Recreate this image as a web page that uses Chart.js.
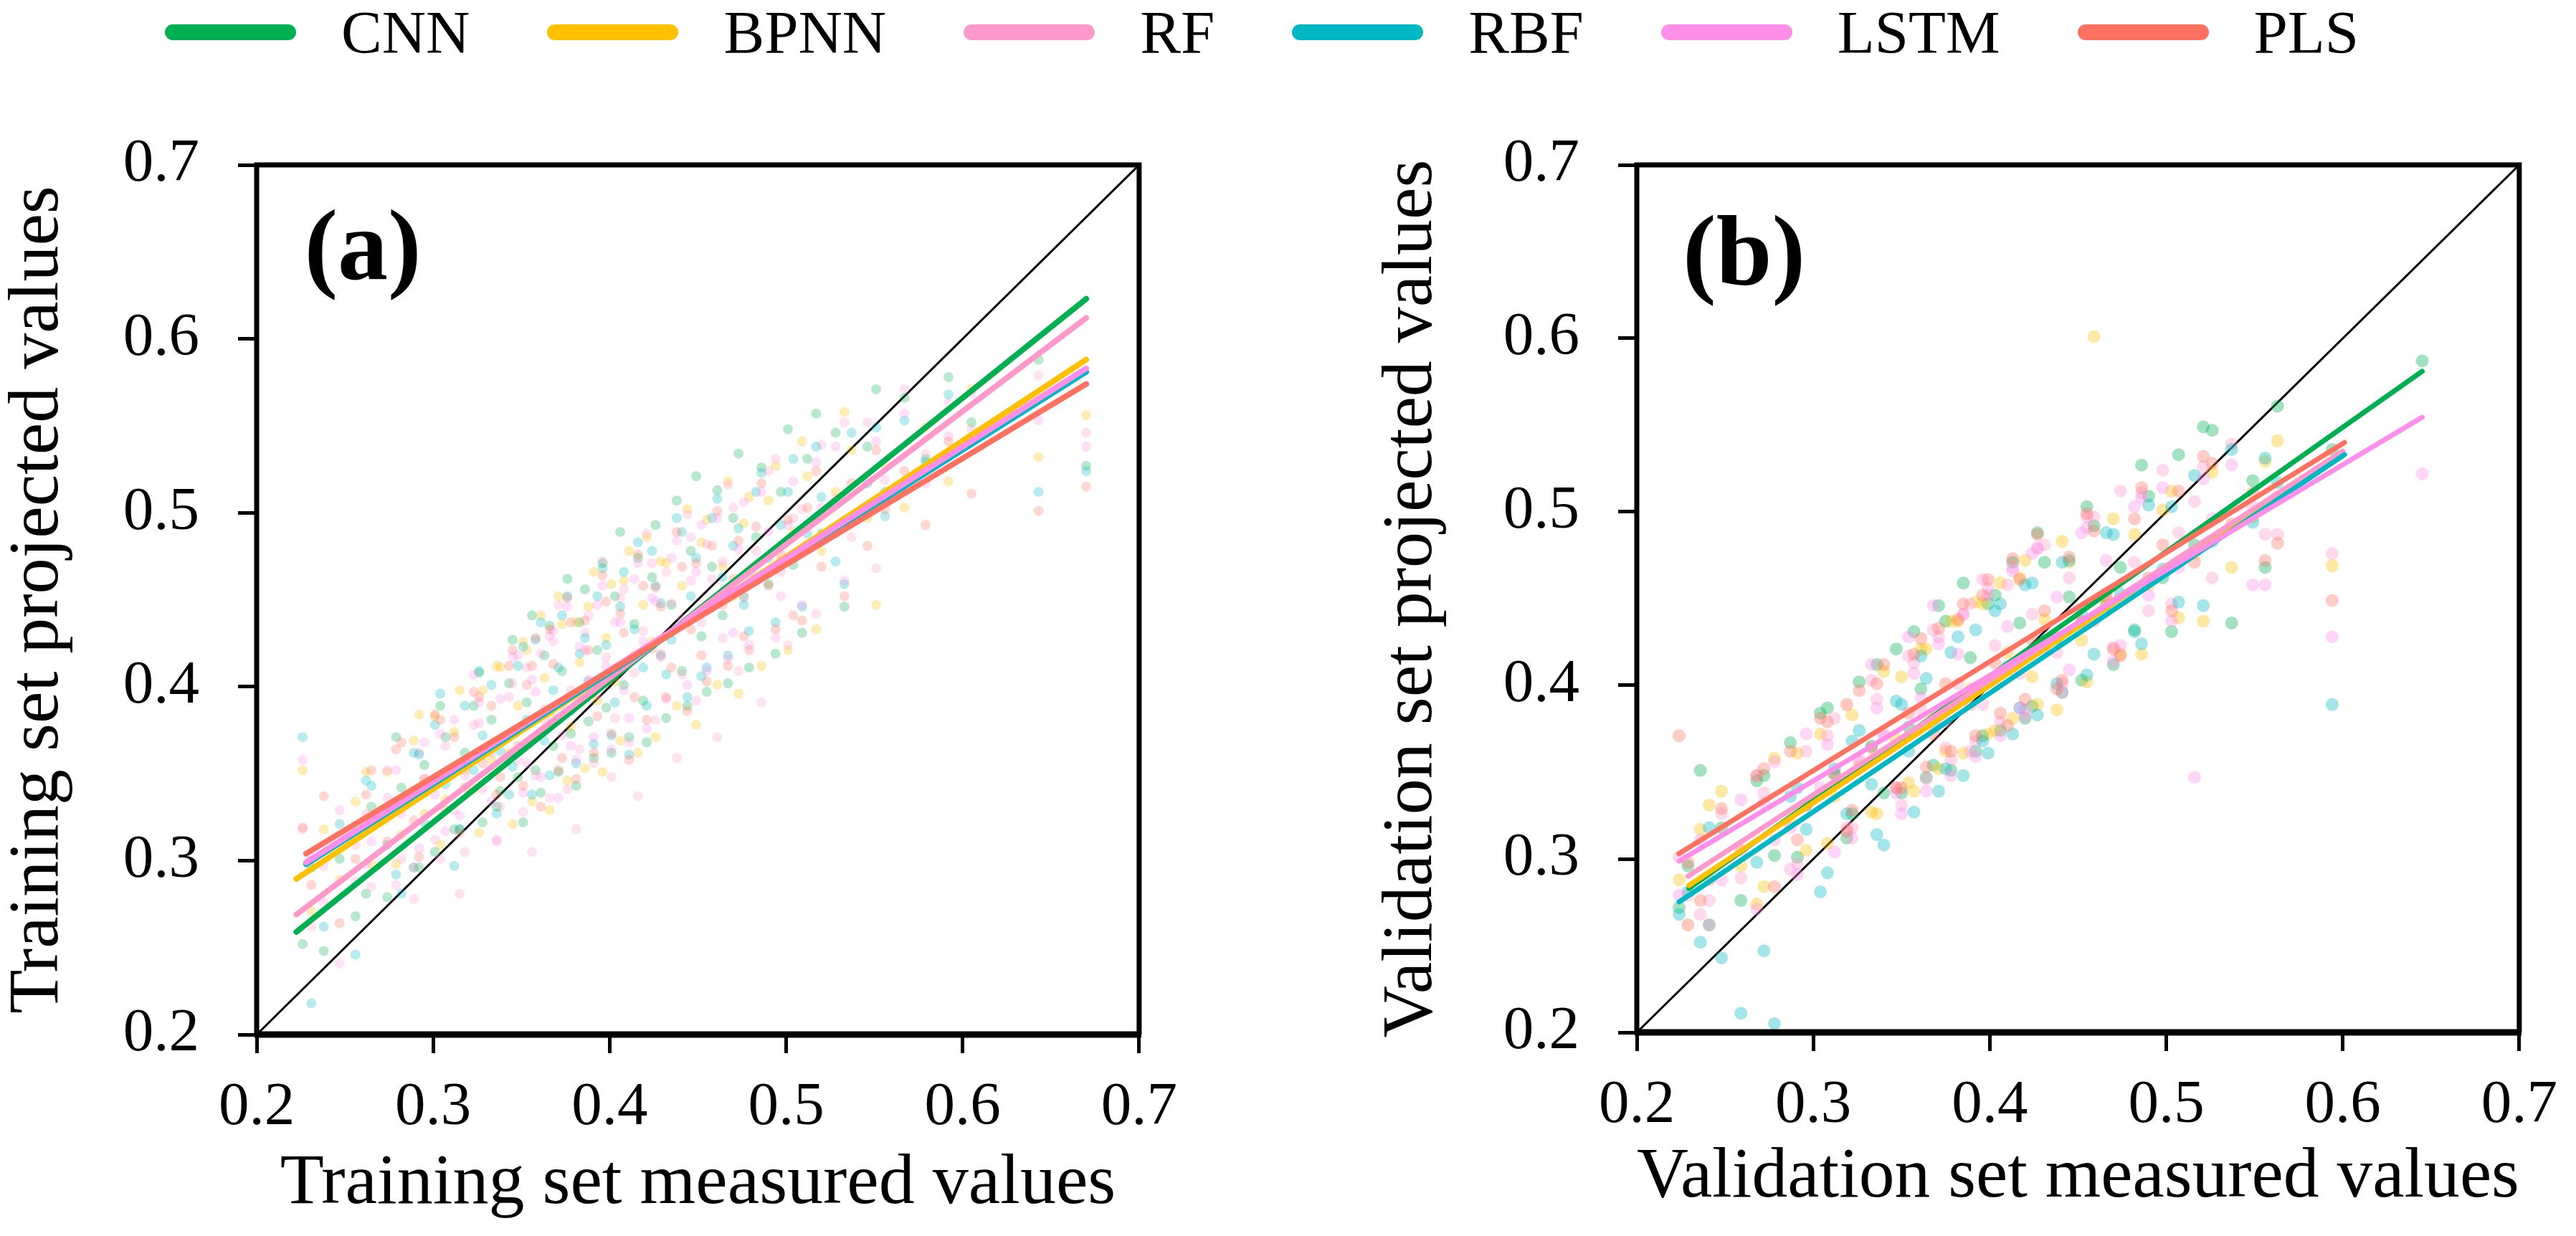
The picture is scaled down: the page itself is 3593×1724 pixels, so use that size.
<!DOCTYPE html>
<html lang="en">
<head>
<meta charset="utf-8">
<title>Measured vs projected values</title>
<script src="https://cdn.jsdelivr.net/npm/chart.js@4.4.1/dist/chart.umd.min.js"></script>
<style>
  html, body { margin: 0; padding: 0; background: #fff; }
  body { width: 3593px; height: 1724px; position: relative; overflow: hidden;
         font-family: "Liberation Serif", "Times New Roman", serif; }
  #legend { position: absolute; top: 0; left: 230px; height: 90px; display: flex; align-items: center; }
  .lg-item { display: flex; align-items: center; margin-right: 108px; }
  .lg-swatch { width: 183px; height: 22px; border-radius: 11px; }
  .lg-text { margin-left: 63px; font-size: 85px; line-height: 1; color: #000; }
  canvas { position: absolute; top: 0; }
  #chartTrain { left: 0; }
  #chartVal { left: 1925px; }
</style>
</head>
<body>
<div id="legend"></div>
<canvas id="chartTrain" width="1668" height="1724"></canvas>
<canvas id="chartVal" width="1668" height="1724"></canvas>
<script>
const FONT = '"Liberation Serif", "Times New Roman", serif';

const models = ['CNN', 'BPNN', 'RF', 'RBF', 'LSTM', 'PLS'];
const modelColors = ['#00B050', '#FFC000', '#FF99CC', '#00B7C3', '#FF8EE8', '#FF7262'];
const axisTicks = [0.2, 0.3, 0.4, 0.5, 0.6, 0.7];

// Training set (panel a)
const trainMeasured = [0.226, 0.231, 0.238, 0.247, 0.256, 0.265, 0.274, 0.282, 0.289, 0.295,
  0.301, 0.307, 0.312, 0.318, 0.323, 0.328, 0.333, 0.338, 0.343, 0.348,
  0.353, 0.358, 0.363, 0.368, 0.373, 0.378, 0.383, 0.388, 0.393, 0.398,
  0.403, 0.408, 0.414, 0.419, 0.424, 0.429, 0.435, 0.441, 0.446, 0.452,
  0.458, 0.464, 0.470, 0.476, 0.483, 0.490, 0.497, 0.504, 0.512, 0.520,
  0.528, 0.537, 0.546, 0.556, 0.567, 0.579, 0.592, 0.605, 0.643, 0.670,
  0.262, 0.279, 0.292, 0.304, 0.315, 0.326, 0.336, 0.345, 0.351, 0.356,
  0.361, 0.366, 0.371, 0.376, 0.381, 0.386, 0.391, 0.396, 0.401, 0.406,
  0.411, 0.416, 0.421, 0.426, 0.432, 0.438, 0.444, 0.449, 0.455, 0.461,
  0.467, 0.473, 0.479, 0.486, 0.494, 0.501, 0.509, 0.517, 0.533, 0.551];
const trainCNN = [0.252, 0.296, 0.248, 0.301, 0.268, 0.331, 0.279, 0.342, 0.296, 0.355,
  0.305, 0.371, 0.318, 0.362, 0.389, 0.322, 0.381, 0.340, 0.402, 0.348,
  0.391, 0.352, 0.418, 0.366, 0.409, 0.373, 0.437, 0.380, 0.421, 0.388,
  0.452, 0.401, 0.436, 0.392, 0.463, 0.418, 0.447, 0.409, 0.478, 0.429,
  0.469, 0.441, 0.497, 0.452, 0.486, 0.459, 0.512, 0.470, 0.531, 0.488,
  0.546, 0.497, 0.538, 0.512, 0.566, 0.531, 0.578, 0.552, 0.588, 0.527,
  0.281, 0.371, 0.296, 0.389, 0.318, 0.408, 0.331, 0.427, 0.322, 0.441,
  0.339, 0.435, 0.351, 0.462, 0.343, 0.456, 0.359, 0.471, 0.362, 0.489,
  0.371, 0.474, 0.368, 0.493, 0.382, 0.507, 0.389, 0.521, 0.397, 0.513,
  0.402, 0.534, 0.411, 0.526, 0.419, 0.548, 0.431, 0.557, 0.446, 0.571];
const trainBPNN = [0.352, 0.271, 0.318, 0.289, 0.334, 0.298, 0.351, 0.315, 0.369, 0.327,
  0.383, 0.335, 0.374, 0.352, 0.341, 0.398, 0.358, 0.411, 0.362, 0.389,
  0.421, 0.371, 0.405, 0.382, 0.436, 0.377, 0.414, 0.446, 0.392, 0.428,
  0.403, 0.461, 0.418, 0.447, 0.426, 0.472, 0.431, 0.458, 0.439, 0.483,
  0.447, 0.469, 0.452, 0.494, 0.461, 0.507, 0.472, 0.489, 0.521, 0.478,
  0.512, 0.536, 0.497, 0.528, 0.503, 0.549, 0.518, 0.571, 0.532, 0.556,
  0.351, 0.298, 0.384, 0.309, 0.398, 0.316, 0.412, 0.321, 0.426, 0.334,
  0.441, 0.329, 0.452, 0.346, 0.437, 0.353, 0.466, 0.351, 0.459, 0.369,
  0.478, 0.362, 0.486, 0.371, 0.471, 0.389, 0.502, 0.378, 0.496, 0.401,
  0.518, 0.396, 0.509, 0.412, 0.527, 0.421, 0.541, 0.433, 0.558, 0.447];
const trainRF = [0.318, 0.262, 0.297, 0.241, 0.309, 0.285, 0.336, 0.301, 0.278, 0.347,
  0.312, 0.366, 0.329, 0.305, 0.378, 0.341, 0.362, 0.331, 0.394, 0.358,
  0.411, 0.349, 0.387, 0.426, 0.372, 0.398, 0.364, 0.441, 0.395, 0.417,
  0.382, 0.456, 0.408, 0.432, 0.471, 0.419, 0.448, 0.407, 0.486, 0.437,
  0.462, 0.428, 0.503, 0.451, 0.478, 0.524, 0.466, 0.497, 0.482, 0.539,
  0.508, 0.486, 0.552, 0.519, 0.571, 0.534, 0.563, 0.548, 0.579, 0.546,
  0.327, 0.286, 0.362, 0.301, 0.281, 0.379, 0.312, 0.402, 0.328, 0.305,
  0.419, 0.336, 0.447, 0.341, 0.318, 0.431, 0.356, 0.472, 0.348, 0.451,
  0.368, 0.337, 0.488, 0.381, 0.466, 0.359, 0.499, 0.392, 0.482, 0.371,
  0.516, 0.409, 0.463, 0.391, 0.531, 0.424, 0.502, 0.442, 0.552, 0.468];
const trainRBF = [0.371, 0.218, 0.262, 0.321, 0.246, 0.343, 0.309, 0.281, 0.362, 0.322,
  0.378, 0.344, 0.297, 0.389, 0.352, 0.372, 0.401, 0.363, 0.338, 0.412,
  0.381, 0.427, 0.369, 0.398, 0.441, 0.386, 0.419, 0.403, 0.452, 0.424,
  0.391, 0.466, 0.433, 0.411, 0.478, 0.448, 0.427, 0.489, 0.452, 0.406,
  0.497, 0.463, 0.481, 0.447, 0.512, 0.474, 0.493, 0.531, 0.488, 0.509,
  0.472, 0.546, 0.517, 0.498, 0.553, 0.529, 0.568, 0.541, 0.512, 0.524,
  0.346, 0.292, 0.361, 0.396, 0.318, 0.409, 0.327, 0.354, 0.423, 0.338,
  0.437, 0.349, 0.411, 0.452, 0.356, 0.428, 0.367, 0.468, 0.372, 0.446,
  0.361, 0.483, 0.389, 0.458, 0.407, 0.497, 0.394, 0.474, 0.411, 0.508,
  0.418, 0.491, 0.432, 0.523, 0.437, 0.512, 0.446, 0.538, 0.459, 0.549];
const trainLSTM = [0.358, 0.301, 0.276, 0.329, 0.288, 0.311, 0.352, 0.327, 0.296, 0.368,
  0.338, 0.317, 0.381, 0.349, 0.407, 0.361, 0.334, 0.393, 0.372, 0.418,
  0.356, 0.397, 0.381, 0.432, 0.389, 0.366, 0.423, 0.404, 0.447, 0.412,
  0.437, 0.398, 0.462, 0.426, 0.451, 0.417, 0.474, 0.439, 0.461, 0.493,
  0.446, 0.472, 0.431, 0.506, 0.463, 0.489, 0.452, 0.518, 0.481, 0.503,
  0.538, 0.494, 0.521, 0.509, 0.557, 0.517, 0.544, 0.569, 0.553, 0.538,
  0.298, 0.352, 0.307, 0.373, 0.326, 0.391, 0.311, 0.417, 0.339, 0.404,
  0.348, 0.429, 0.336, 0.446, 0.358, 0.421, 0.371, 0.458, 0.364, 0.437,
  0.382, 0.471, 0.376, 0.449, 0.393, 0.484, 0.401, 0.466, 0.409, 0.497,
  0.416, 0.479, 0.424, 0.512, 0.428, 0.493, 0.447, 0.529, 0.461, 0.541];
const trainPLS = [0.319, 0.286, 0.337, 0.264, 0.301, 0.352, 0.311, 0.368, 0.323, 0.347,
  0.384, 0.329, 0.371, 0.342, 0.397, 0.356, 0.389, 0.348, 0.412, 0.366,
  0.401, 0.428, 0.375, 0.413, 0.359, 0.437, 0.392, 0.421, 0.383, 0.449,
  0.406, 0.431, 0.394, 0.458, 0.422, 0.446, 0.411, 0.469, 0.433, 0.418,
  0.481, 0.447, 0.462, 0.429, 0.492, 0.458, 0.476, 0.441, 0.503, 0.469,
  0.488, 0.517, 0.481, 0.502, 0.524, 0.493, 0.541, 0.511, 0.501, 0.515,
  0.338, 0.364, 0.302, 0.381, 0.316, 0.394, 0.338, 0.421, 0.343, 0.412,
  0.331, 0.433, 0.352, 0.451, 0.347, 0.438, 0.362, 0.464, 0.373, 0.442,
  0.358, 0.476, 0.381, 0.457, 0.394, 0.489, 0.386, 0.471, 0.403, 0.501,
  0.412, 0.484, 0.421, 0.517, 0.433, 0.496, 0.438, 0.524, 0.452, 0.536];

// fitted lines (order as in models)
const trainFitX0 = [0.2225, 0.2225, 0.2225, 0.228, 0.228, 0.228];
const trainFitX1 = [0.670, 0.670, 0.670, 0.670, 0.670, 0.670];
const trainFitY0 = [0.259, 0.2895, 0.269, 0.298, 0.299, 0.304];
const trainFitY1 = [0.623, 0.588, 0.612, 0.581, 0.583, 0.574];

// Validation set (panel b)
const valMeasured = [0.224, 0.229, 0.236, 0.248, 0.259, 0.268, 0.278, 0.287, 0.296, 0.304,
  0.312, 0.319, 0.326, 0.333, 0.340, 0.347, 0.354, 0.361, 0.368, 0.375,
  0.382, 0.389, 0.396, 0.403, 0.410, 0.417, 0.424, 0.431, 0.438, 0.445,
  0.452, 0.459, 0.466, 0.474, 0.482, 0.490, 0.498, 0.507, 0.516, 0.526,
  0.537, 0.549, 0.563, 0.594, 0.645,
  0.241, 0.272, 0.291, 0.308, 0.322, 0.336, 0.350, 0.357, 0.364, 0.371,
  0.378, 0.385, 0.392, 0.399, 0.406, 0.413, 0.420, 0.427, 0.441, 0.455,
  0.470, 0.486, 0.503, 0.521, 0.556];
const valCNN = [0.272, 0.296, 0.351, 0.318, 0.276, 0.345, 0.302, 0.367, 0.331, 0.384,
  0.349, 0.312, 0.402, 0.365, 0.338, 0.421, 0.376, 0.398, 0.354, 0.437,
  0.392, 0.416, 0.371, 0.452, 0.409, 0.436, 0.388, 0.471, 0.427, 0.451,
  0.403, 0.492, 0.446, 0.468, 0.432, 0.509, 0.462, 0.533, 0.481, 0.547,
  0.436, 0.518, 0.561, 0.536, 0.587,
  0.262, 0.348, 0.301, 0.387, 0.326, 0.412, 0.338, 0.431, 0.347, 0.446,
  0.351, 0.459, 0.362, 0.447, 0.374, 0.471, 0.381, 0.488, 0.396, 0.503,
  0.412, 0.527, 0.431, 0.549, 0.468];
const valBPNN = [0.288, 0.262, 0.317, 0.339, 0.296, 0.274, 0.358, 0.321, 0.305, 0.372,
  0.336, 0.389, 0.353, 0.327, 0.408, 0.369, 0.344, 0.421, 0.381, 0.362,
  0.437, 0.398, 0.447, 0.374, 0.419, 0.462, 0.405, 0.438, 0.386, 0.471,
  0.426, 0.601, 0.449, 0.418, 0.487, 0.458, 0.501, 0.439, 0.476, 0.523,
  0.468, 0.497, 0.541, 0.469, null,
  0.331, 0.284, 0.361, 0.309, 0.383, 0.326, 0.405, 0.339, 0.421, 0.352,
  0.437, 0.361, 0.448, 0.372, 0.459, 0.381, 0.472, 0.389, 0.483, 0.402,
  0.496, 0.418, 0.512, 0.437, 0.529];
const valRF = [0.301, 0.279, 0.268, 0.326, 0.289, 0.348, 0.311, 0.294, 0.362, 0.337,
  0.381, 0.318, 0.356, 0.403, 0.372, 0.341, 0.417, 0.386, 0.432, 0.364,
  0.401, 0.447, 0.389, 0.423, 0.458, 0.407, 0.441, 0.481, 0.419, 0.462,
  0.436, 0.497, 0.453, 0.512, 0.471, 0.443, 0.524, 0.488, 0.506, 0.462,
  0.539, 0.503, 0.487, 0.476, null,
  0.276, 0.338, 0.297, 0.371, 0.318, 0.392, 0.331, 0.413, 0.346, 0.428,
  0.357, 0.441, 0.368, 0.456, 0.379, 0.468, 0.386, 0.479, 0.401, 0.497,
  0.422, 0.511, 0.447, 0.526, 0.487];
const valRBF = [0.268, 0.281, 0.252, 0.243, 0.211, 0.298, 0.205, 0.336, 0.317, 0.281,
  0.352, 0.326, 0.374, 0.343, 0.308, 0.391, 0.362, 0.417, 0.379, 0.352,
  0.428, 0.396, 0.368, 0.443, 0.411, 0.387, 0.459, 0.426, 0.401, 0.472,
  0.441, 0.418, 0.488, 0.453, 0.431, 0.504, 0.467, 0.448, 0.521, 0.483,
  0.536, 0.494, 0.517, 0.389, null,
  0.318, 0.247, 0.341, 0.292, 0.368, 0.314, 0.389, 0.327, 0.404, 0.339,
  0.419, 0.348, 0.432, 0.361, 0.447, 0.372, 0.458, 0.383, 0.471, 0.406,
  0.487, 0.424, 0.503, 0.446, 0.531];
const valLSTM = [0.279, 0.262, 0.311, 0.288, 0.334, 0.271, 0.356, 0.318, 0.372, 0.341,
  0.304, 0.389, 0.357, 0.412, 0.371, 0.338, 0.428, 0.393, 0.446, 0.379,
  0.418, 0.362, 0.461, 0.402, 0.434, 0.387, 0.476, 0.421, 0.451, 0.409,
  0.488, 0.437, 0.472, 0.423, 0.503, 0.452, 0.514, 0.468, 0.347, 0.496,
  0.527, 0.458, 0.509, 0.428, 0.522,
  0.262, 0.332, 0.291, 0.366, 0.312, 0.387, 0.326, 0.407, 0.339, 0.424,
  0.348, 0.441, 0.359, 0.452, 0.371, 0.466, 0.382, 0.479, 0.396, 0.491,
  0.414, 0.508, 0.437, 0.519, 0.458];
const valPLS = [0.371, 0.298, 0.276, 0.329, 0.305, 0.348, 0.284, 0.362, 0.331, 0.381,
  0.349, 0.316, 0.397, 0.364, 0.412, 0.341, 0.384, 0.427, 0.372, 0.401,
  0.438, 0.389, 0.452, 0.413, 0.377, 0.461, 0.426, 0.443, 0.398, 0.474,
  0.437, 0.489, 0.451, 0.417, 0.496, 0.462, 0.481, 0.512, 0.471, 0.528,
  0.493, 0.511, 0.482, 0.449, null,
  0.288, 0.352, 0.311, 0.379, 0.328, 0.401, 0.341, 0.418, 0.353, 0.433,
  0.362, 0.447, 0.371, 0.461, 0.384, 0.473, 0.392, 0.487, 0.403, 0.499,
  0.421, 0.514, 0.443, 0.532, 0.472];

const valFitX0 = [0.2295, 0.2295, 0.229, 0.224, 0.224, 0.2238];
const valFitX1 = [0.645, 0.594, 0.600, 0.601, 0.645, 0.601];
const valFitY0 = [0.283, 0.2847, 0.290, 0.2752, 0.2988, 0.303];
const valFitY1 = [0.581, 0.531, 0.535, 0.533, 0.5545, 0.540];

function toPoints(xs, ys) {
  return xs.map((x, i) => ({ x: x, y: ys[i] })).filter(p => p.y !== null);
}

function hexToRgba(hex, a) {
  const n = parseInt(hex.slice(1), 16);
  return `rgba(${(n >> 16) & 255},${(n >> 8) & 255},${n & 255},${a})`;
}

// axes frame + panel letter
const frameBox = {
  id: 'frameBox',
  afterDraw(chart, args, opts) {
    const { ctx, chartArea: { left, right, top, bottom } } = chart;
    ctx.save();
    ctx.strokeStyle = '#000';
    ctx.lineWidth = 7;
    ctx.beginPath();
    ctx.moveTo(left, bottom);
    ctx.lineTo(left, top);
    ctx.lineTo(right, top);
    ctx.lineTo(right, bottom);
    ctx.stroke();
    ctx.lineWidth = 9;
    ctx.beginPath();
    ctx.moveTo(left - 3, bottom);
    ctx.lineTo(right + 3, bottom);
    ctx.stroke();
    if (opts.label) {
      ctx.font = 'bold 140px ' + FONT;
      ctx.fillStyle = '#000';
      ctx.textAlign = 'left';
      ctx.textBaseline = 'alphabetic';
      ctx.fillText(opts.label, chart.scales.x.getPixelForValue(opts.labelX), chart.scales.y.getPixelForValue(opts.labelY));
    }
    ctx.restore();
  }
};

function buildLegend() {
  const box = document.getElementById('legend');
  models.forEach((name, i) => {
    const item = document.createElement('div');
    item.className = 'lg-item';
    item.innerHTML = `<span class="lg-swatch" style="background:${modelColors[i]}"></span><span class="lg-text">${name}</span>`;
    box.appendChild(item);
  });
}

function buildPanel(canvasId, cfg) {
  const datasets = [{
    type: 'line', label: '1:1', data: [{ x: 0.2, y: 0.2 }, { x: 0.7, y: 0.7 }],
    borderColor: '#000', borderWidth: 3, pointRadius: 0, order: 100
  }];
  models.forEach((name, i) => {
    datasets.push({
      type: 'scatter', label: name + ' samples', data: toPoints(cfg.measured, cfg.predicted[i]),
      backgroundColor: hexToRgba(modelColors[i], cfg.alpha), borderWidth: 0,
      pointRadius: cfg.radius, order: 40 - i
    });
  });
  models.forEach((name, i) => {
    datasets.push({
      type: 'line', label: name,
      data: [{ x: cfg.fitX0[i], y: cfg.fitY0[i] }, { x: cfg.fitX1[i], y: cfg.fitY1[i] }],
      borderColor: modelColors[i], borderWidth: cfg.lineWidth, borderCapStyle: 'round',
      pointRadius: 0, order: 10 - i
    });
  });

  const tickFont = { family: FONT, size: 85, lineHeight: 1.2 };
  const titleFont = { family: FONT, size: 100, lineHeight: 0.9 };
  const grid = { display: true, drawOnChartArea: false, drawTicks: true, tickLength: 26,
    tickWidth: 5, tickColor: '#000', lineWidth: 5, color: '#000' };
  const setTicks = axis => { axis.ticks = axisTicks.map(v => ({ value: v })); };

  return new Chart(document.getElementById(canvasId), {
    data: { datasets },
    options: {
      responsive: false, devicePixelRatio: 1, animation: false, events: [],
      layout: { padding: { top: 230, right: cfg.padRight, bottom: 0, left: 0 } },
      plugins: {
        legend: { display: false }, tooltip: { enabled: false },
        frameBox: { label: cfg.label, labelX: cfg.labelX, labelY: cfg.labelY }
      },
      scales: {
        x: {
          type: 'linear', min: 0.2, max: 0.7, afterBuildTicks: setTicks,
          ticks: { callback: v => v.toFixed(1), font: tickFont, color: '#000', padding: 26, maxRotation: 0, autoSkip: false },
          grid, border: { display: false },
          title: { display: true, text: cfg.xTitle, color: '#000', font: titleFont, padding: { top: 0, bottom: cfg.xTitlePad } },
          afterFit: axis => { axis.height = cfg.xAxisHeight; }
        },
        y: {
          type: 'linear', min: 0.2, max: 0.7, afterBuildTicks: setTicks,
          ticks: { callback: v => v.toFixed(1), font: tickFont, color: '#000', padding: 54, autoSkip: false },
          grid, border: { display: false },
          title: { display: true, text: cfg.yTitle, color: '#000', font: titleFont, padding: { top: cfg.yTitlePad, bottom: 0 } },
          afterFit: axis => { axis.width = 358; }
        }
      }
    },
    plugins: [frameBox]
  });
}

document.addEventListener('DOMContentLoaded', () => {
  buildLegend();
  buildPanel('chartTrain', {
    measured: trainMeasured,
    predicted: [trainCNN, trainBPNN, trainRF, trainRBF, trainLSTM, trainPLS],
    fitX0: trainFitX0, fitX1: trainFitX1, fitY0: trainFitY0, fitY1: trainFitY1,
    alpha: 0.28, radius: 7, lineWidth: 8,
    xTitle: 'Training set measured values', yTitle: 'Training set projected values',
    label: '(a)', labelX: 0.227, labelY: 0.6345,
    padRight: 71, xAxisHeight: 281, xTitlePad: 27, yTitlePad: 9
  });
  buildPanel('chartVal', {
    measured: valMeasured,
    predicted: [valCNN, valBPNN, valRF, valRBF, valLSTM, valPLS],
    fitX0: valFitX0, fitX1: valFitX1, fitY0: valFitY0, fitY1: valFitY1,
    alpha: 0.36, radius: 9, lineWidth: 7,
    xTitle: 'Validation set measured values', yTitle: 'Validation set projected values',
    label: '(b)', labelX: 0.226, labelY: 0.631,
    padRight: 68, xAxisHeight: 284, xTitlePad: 36, yTitlePad: 0
  });
});
</script>
</body>
</html>
